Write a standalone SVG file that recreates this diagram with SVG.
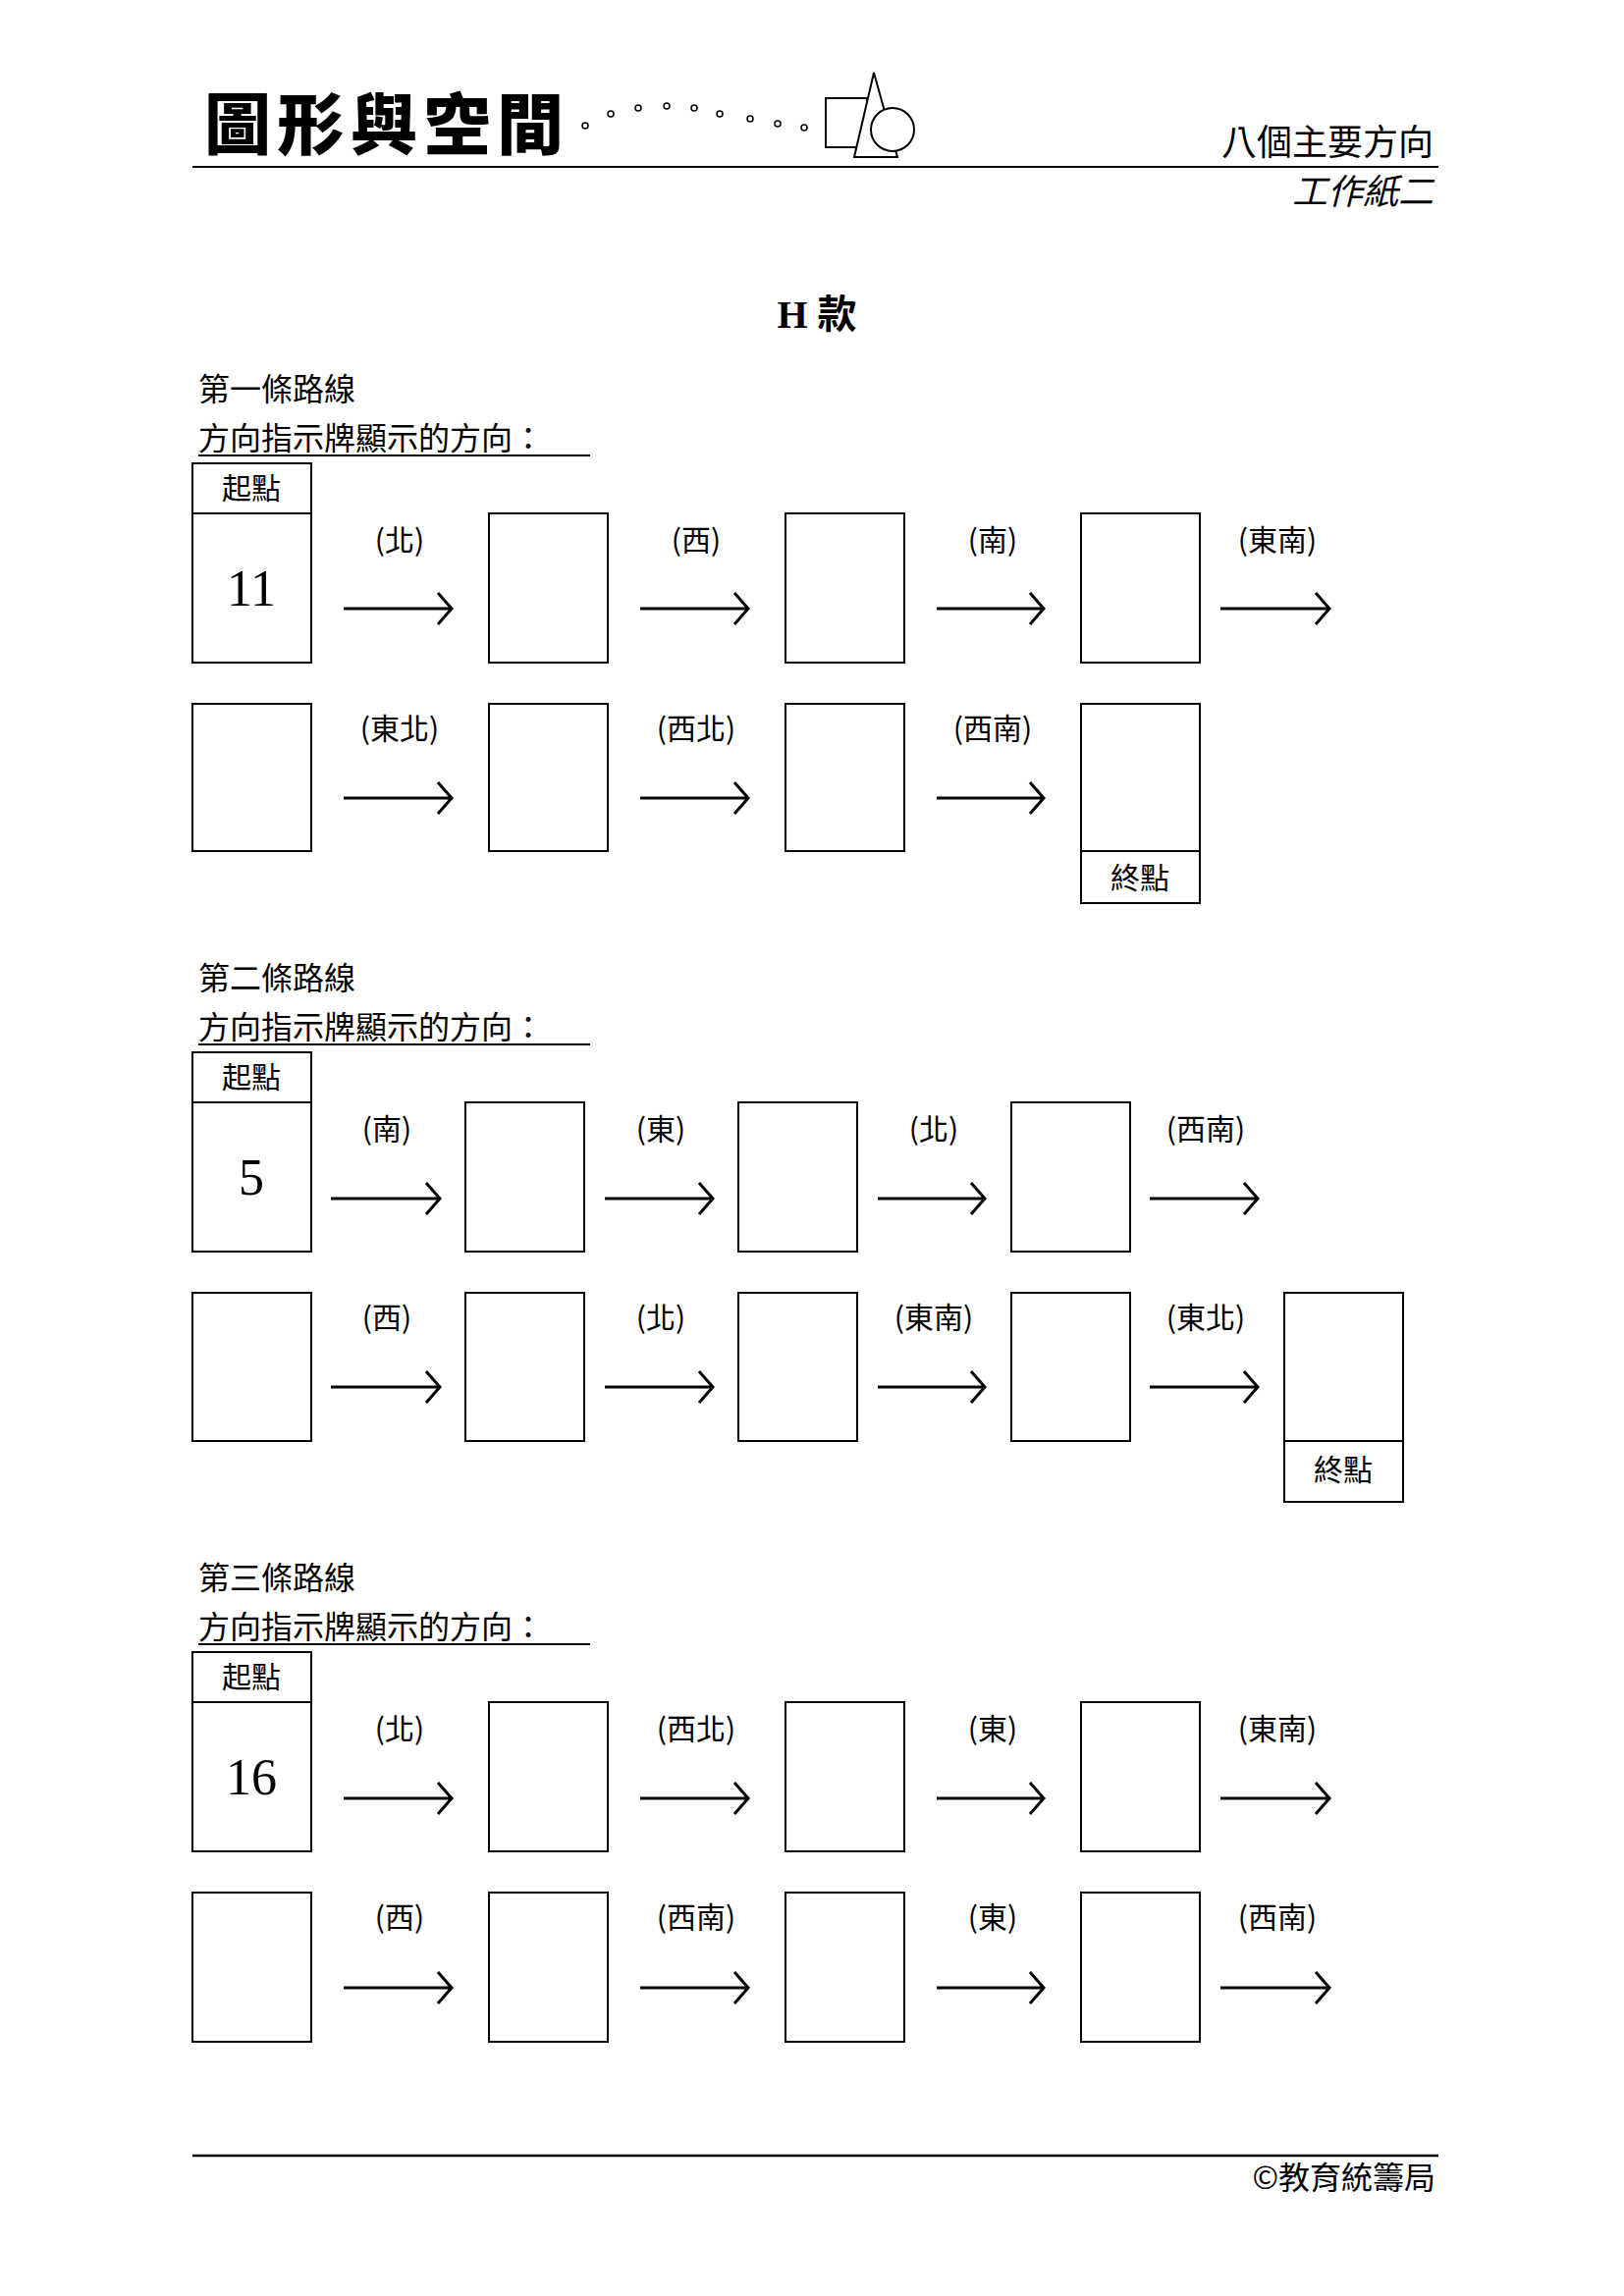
<svg xmlns="http://www.w3.org/2000/svg" width="1654" height="2339" viewBox="0 0 1654 2339">
<style>
.b{fill:#fff;stroke:#000;stroke-width:2}
.t{font-family:"Noto Sans CJK TC","Noto Sans CJK SC",sans-serif;font-size:32px;fill:#000}
.l{font-family:"Noto Sans CJK TC",sans-serif;font-size:30px;fill:#000;text-anchor:middle}
.n{font-family:"Liberation Serif",serif;font-size:52px;text-anchor:middle}
.a{fill:none;stroke:#000;stroke-width:3}
</style>
<rect width="1654" height="2339" fill="#fff"/>
<g id="header">
<text x="208" y="152" style="font-family:'Noto Sans CJK TC',sans-serif;font-size:68px;font-weight:900" textLength="366">圖形與空間</text>
<g fill="none" stroke="#000" stroke-width="1.5">
<circle cx="596" cy="128" r="3"/><circle cx="622" cy="116" r="3"/><circle cx="650" cy="110" r="3"/><circle cx="679" cy="108" r="3"/><circle cx="707" cy="110" r="3"/><circle cx="733" cy="116" r="3"/><circle cx="764" cy="121" r="3"/><circle cx="792" cy="126" r="3"/><circle cx="819" cy="130" r="3"/>
<rect x="841" y="100" width="42" height="50" stroke-width="2"/>
<path d="M890,74 L870,160 L914,160 Z" stroke-width="2" fill="#fff"/>
<circle cx="909" cy="132" r="22" stroke-width="2" fill="#fff"/>
</g>
<line x1="196" y1="170" x2="1465" y2="170" stroke="#000" stroke-width="2"/>
<text x="1460" y="158" class="t" style="font-size:36px" text-anchor="end">八個主要方向</text>
<text x="1460" y="208" class="t" style="font-size:36px;font-style:italic" text-anchor="end">工作紙二</text>
<text x="832" y="334" style="font-family:'Liberation Serif','Noto Sans CJK TC',serif;font-size:40px;font-weight:bold" text-anchor="middle">H 款</text>
</g>
<g id="route1">
<text x="202" y="408" class="t">第一條路線</text>
<text x="202" y="458" class="t">方向指示牌顯示的方向：</text>
<line x1="202" y1="464" x2="601" y2="464" stroke="#000" stroke-width="2"/>
<g id="r1s"><rect class="b" x="196" y="472" width="121" height="51"/><text class="l" x="256" y="508">起點</text><rect class="b" x="196" y="523" width="121" height="152"/><text class="n" x="256" y="617">11</text></g>
<g id="r1b2"><rect class="b" x="498" y="523" width="121" height="152"/></g>
<g id="r1b3"><rect class="b" x="800" y="523" width="121" height="152"/></g>
<g id="r1b4"><rect class="b" x="1101" y="523" width="121" height="152"/></g>
<g id="r1b5"><rect class="b" x="196" y="717" width="121" height="150"/></g>
<g id="r1b6"><rect class="b" x="498" y="717" width="121" height="150"/></g>
<g id="r1b7"><rect class="b" x="800" y="717" width="121" height="150"/></g>
<g id="r1e"><rect class="b" x="1101" y="717" width="121" height="150"/><rect class="b" x="1101" y="867" width="121" height="53"/><text class="l" x="1161" y="905">終點</text></g>
<g id="r1labels">
<text class="l" x="407" y="561">(北)</text><text class="l" x="709" y="561">(西)</text><text class="l" x="1011" y="561">(南)</text><text class="l" x="1301" y="561">(東南)</text>
<text class="l" x="407" y="753">(東北)</text><text class="l" x="709" y="753">(西北)</text><text class="l" x="1011" y="753">(西南)</text>
</g>
</g>
<g id="route2">
<text x="202" y="1008" class="t">第二條路線</text>
<text x="202" y="1058" class="t">方向指示牌顯示的方向：</text>
<line x1="202" y1="1064" x2="601" y2="1064" stroke="#000" stroke-width="2"/>
<g id="r2s"><rect class="b" x="196" y="1072" width="121" height="51"/><text class="l" x="256" y="1108">起點</text><rect class="b" x="196" y="1123" width="121" height="152"/><text class="n" x="256" y="1217">5</text></g>
<g id="r2b2"><rect class="b" x="474" y="1123" width="121" height="152"/></g>
<g id="r2b3"><rect class="b" x="752" y="1123" width="121" height="152"/></g>
<g id="r2b4"><rect class="b" x="1030" y="1123" width="121" height="152"/></g>
<g id="r2b5"><rect class="b" x="196" y="1317" width="121" height="151"/></g>
<g id="r2b6"><rect class="b" x="474" y="1317" width="121" height="151"/></g>
<g id="r2b7"><rect class="b" x="752" y="1317" width="121" height="151"/></g>
<g id="r2b8"><rect class="b" x="1030" y="1317" width="121" height="151"/></g>
<g id="r2e"><rect class="b" x="1308" y="1317" width="121" height="151"/><rect class="b" x="1308" y="1468" width="121" height="62"/><text class="l" x="1368" y="1508">終點</text></g>
<g id="r2labels">
<text class="l" x="394" y="1161">(南)</text><text class="l" x="673" y="1161">(東)</text><text class="l" x="951" y="1161">(北)</text><text class="l" x="1228" y="1161">(西南)</text>
<text class="l" x="394" y="1353">(西)</text><text class="l" x="673" y="1353">(北)</text><text class="l" x="951" y="1353">(東南)</text><text class="l" x="1228" y="1353">(東北)</text>
</g>
</g>
<g id="route3">
<text x="202" y="1619" class="t">第三條路線</text>
<text x="202" y="1669" class="t">方向指示牌顯示的方向：</text>
<line x1="202" y1="1675" x2="601" y2="1675" stroke="#000" stroke-width="2"/>
<g id="r3s"><rect class="b" x="196" y="1683" width="121" height="51"/><text class="l" x="256" y="1719">起點</text><rect class="b" x="196" y="1734" width="121" height="152"/><text class="n" x="256" y="1828">16</text></g>
<g id="r3b2"><rect class="b" x="498" y="1734" width="121" height="152"/></g>
<g id="r3b3"><rect class="b" x="800" y="1734" width="121" height="152"/></g>
<g id="r3b4"><rect class="b" x="1101" y="1734" width="121" height="152"/></g>
<g id="r3b5"><rect class="b" x="196" y="1928" width="121" height="152"/></g>
<g id="r3b6"><rect class="b" x="498" y="1928" width="121" height="152"/></g>
<g id="r3b7"><rect class="b" x="800" y="1928" width="121" height="152"/></g>
<g id="r3b8"><rect class="b" x="1101" y="1928" width="121" height="152"/></g>
<g id="r3labels">
<text class="l" x="407" y="1772">(北)</text><text class="l" x="709" y="1772">(西北)</text><text class="l" x="1011" y="1772">(東)</text><text class="l" x="1301" y="1772">(東南)</text>
<text class="l" x="407" y="1964">(西)</text><text class="l" x="709" y="1964">(西南)</text><text class="l" x="1011" y="1964">(東)</text><text class="l" x="1301" y="1964">(西南)</text>
</g>
</g>
<g id="connectors" class="a">
<path d="M350,620H460M446,604L460,620L446,636"/><path d="M652,620H762M748,604L762,620L748,636"/><path d="M954,620H1063M1049,604L1063,620L1049,636"/><path d="M1243,620H1354M1340,604L1354,620L1340,636"/>
<path d="M350,813H460M446,797L460,813L446,829"/><path d="M652,813H762M748,797L762,813L748,829"/><path d="M954,813H1063M1049,797L1063,813L1049,829"/>
<path d="M337,1221H448M434,1205L448,1221L434,1237"/><path d="M616,1221H726M712,1205L726,1221L712,1237"/><path d="M894,1221H1003M989,1205L1003,1221L989,1237"/><path d="M1171,1221H1281M1267,1205L1281,1221L1267,1237"/>
<path d="M337,1413H448M434,1397L448,1413L434,1429"/><path d="M616,1413H726M712,1397L726,1413L712,1429"/><path d="M894,1413H1003M989,1397L1003,1413L989,1429"/><path d="M1171,1413H1281M1267,1397L1281,1413L1267,1429"/>
<path d="M350,1832H460M446,1816L460,1832L446,1848"/><path d="M652,1832H762M748,1816L762,1832L748,1848"/><path d="M954,1832H1063M1049,1816L1063,1832L1049,1848"/><path d="M1243,1832H1354M1340,1816L1354,1832L1340,1848"/>
<path d="M350,2025H460M446,2009L460,2025L446,2041"/><path d="M652,2025H762M748,2009L762,2025L748,2041"/><path d="M954,2025H1063M1049,2009L1063,2025L1049,2041"/><path d="M1243,2025H1354M1340,2009L1354,2025L1340,2041"/>
</g>
<g id="footer">
<line x1="196" y1="2196" x2="1465" y2="2196" stroke="#000" stroke-width="2.5"/>
<text x="1462" y="2230" class="t" text-anchor="end">©教育統籌局</text>
</g>
</svg>
